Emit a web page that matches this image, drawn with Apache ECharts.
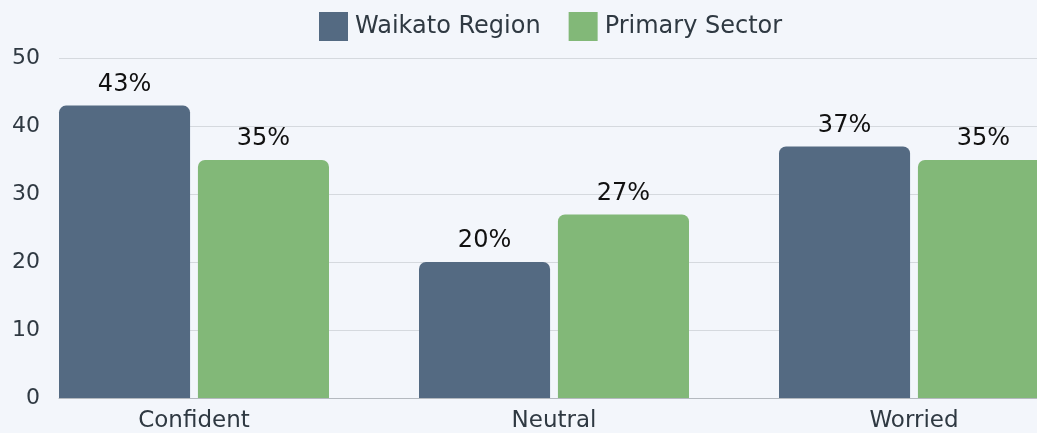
<!DOCTYPE html>
<html>
<head>
<meta charset="utf-8">
<script src="https://cdn.jsdelivr.net/npm/echarts@6/dist/echarts.min.js"></script>
<style>
  html, body { margin: 0; padding: 0; background: #f3f6fb; }
  #chart { width: 1037px; height: 433px; }
</style>
</head>
<body>
<div id="chart"></div>
<script>
const categories = ["Confident", "Neutral", "Worried"];
const waikato = [43, 20, 37];
const primary = [35, 27, 35];
const yTicks = { min: 0, max: 50, interval: 10 };

const font = "'DejaVu Sans', sans-serif";
const textDark = "#2f3942";

const chart = echarts.init(document.getElementById("chart"));

const barLabel = {
  show: true,
  position: "top",
  distance: 9,
  color: "#111",
  fontSize: 24,
  fontFamily: font,
  formatter: (p) => `${p.value}%`
};

chart.setOption({
  backgroundColor: "#f3f6fb",
  animation: false,
  legend: {
    top: 7,
    left: 314,
    itemWidth: 29,
    itemHeight: 29,
    itemGap: 28,
    icon: "rect",
    textStyle: { color: textDark, fontSize: 24, fontFamily: font, padding: [0, 0, 0, 2] }
  },
  grid: [
    { left: 14, width: 1080, top: 58, bottom: 35, outerBoundsMode: "none", containLabel: false },
    { left: 59, right: 0, top: 58, bottom: 35, outerBoundsMode: "none", containLabel: false }
  ],
  xAxis: [
    {
      type: "category",
      gridIndex: 0,
      data: categories,
      axisLine: { show: false },
      axisTick: { show: false },
      axisLabel: { color: textDark, fontSize: 23, fontFamily: font, margin: 12 }
    },
    {
      type: "category",
      gridIndex: 1,
      data: [""],
      axisLine: { show: true, lineStyle: { color: "#b4b9bf", width: 1 } },
      axisTick: { show: false },
      axisLabel: { show: false }
    }
  ],
  yAxis: [
    { type: "value", gridIndex: 0, show: false, ...yTicks },
    {
      type: "value",
      gridIndex: 1,
      ...yTicks,
      axisLine: { show: false },
      axisTick: { show: false },
      axisLabel: { color: textDark, fontSize: 22, fontFamily: font, margin: 19 },
      splitLine: { lineStyle: { color: "#d5d9de" } }
    }
  ],
  series: [
    {
      name: "Waikato Region",
      type: "bar",
      xAxisIndex: 0,
      yAxisIndex: 0,
      data: waikato,
      barCategoryGap: "25%",
      barGap: "6%",
      itemStyle: { color: "#546a82", borderRadius: [7, 7, 0, 0] },
      label: barLabel
    },
    {
      name: "Primary Sector",
      type: "bar",
      xAxisIndex: 0,
      yAxisIndex: 0,
      data: primary,
      barCategoryGap: "25%",
      barGap: "6%",
      itemStyle: { color: "#82b878", borderRadius: [7, 7, 0, 0] },
      label: barLabel
    }
  ]
});
</script>
</body>
</html>
